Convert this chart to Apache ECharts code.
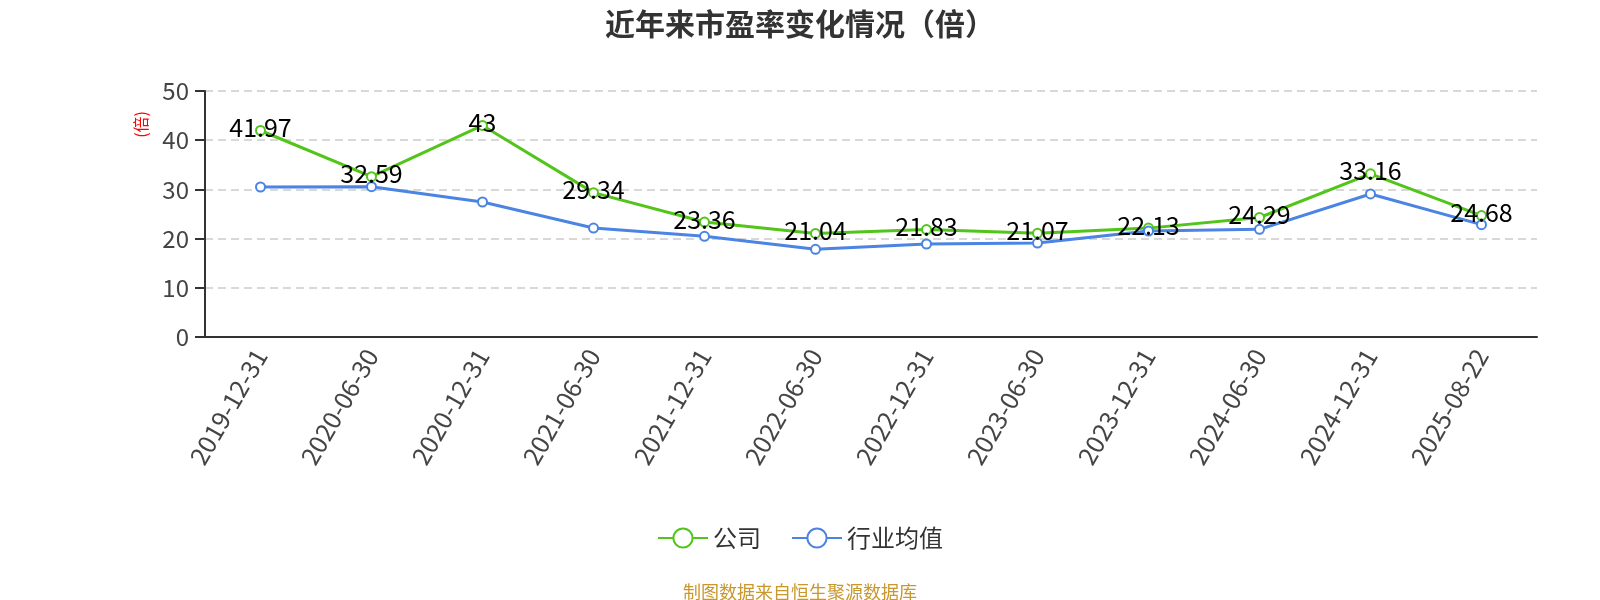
<!DOCTYPE html>
<html>
<head>
<meta charset="utf-8">
<script src="https://cdn.jsdelivr.net/npm/echarts@6/dist/echarts.min.js"></script>
<style>
html,body{margin:0;padding:0;background:#fff;}
#main{width:1600px;height:600px;}
</style>
</head>
<body>
<div id="main"></div>
<script>
var dates = ['2019-12-31','2020-06-30','2020-12-31','2021-06-30','2021-12-31','2022-06-30','2022-12-31','2023-06-30','2023-12-31','2024-06-30','2024-12-31','2025-08-22'];
var company = [41.97, 32.59, 43, 29.34, 23.36, 21.04, 21.83, 21.07, 22.13, 24.29, 33.16, 24.68];
var industry = [30.49, 30.56, 27.44, 22.15, 20.46, 17.82, 18.9, 19.1, 21.54, 21.88, 29.07, 22.83];
var yTicks = [0, 10, 20, 30, 40, 50];

var FONT = '"Noto Sans CJK SC","Noto Sans",sans-serif';

var myChart = echarts.init(document.getElementById('main'));
var option = {
	backgroundColor:'#fff',
	textStyle:{fontFamily:FONT},
	title:[{
		text:'近年来市盈率变化情况（倍）',
		left:'center',
		top:4,
		textStyle:{fontSize:30,fontWeight:'bold',color:'#333',fontFamily:FONT}
	},{
		text:'制图数据来自恒生聚源数据库',
		left:'center',
		top:578,
		textStyle:{fontSize:18,fontWeight:'normal',color:'#c9972c',fontFamily:FONT}
	}],
	//左侧单位
	graphic:[{
		type:'text',
		left:133,
		top:111,
		rotation:Math.PI/2,
		style:{text:'(倍)',fill:'#ff0000',font:'16px ' + FONT}
	}],
	legend:{
		data:['公司','行业均值'],
		left:'center',
		top:521,
		itemWidth:50,
		itemHeight:24,
		itemGap:30,
		textStyle:{fontSize:24,color:'#333',fontFamily:FONT}
	},
	grid:{
		left:205,
		right:63,
		top:91,
		bottom:263
	},
	xAxis:[{
		type:'category',
		data:dates,
		boundaryGap:true,
		axisLine:{lineStyle:{color:'#333',width:2}},
		axisTick:{length:9,lineStyle:{width:2}},
		axisLabel:{
			interval:0,
			rotate:60,
			margin:14,
			fontSize:25,
			color:'#444',
			fontFamily:FONT
		}
	}],
	yAxis:[{
		type:'value',
		min:yTicks[0],
		max:yTicks[yTicks.length-1],
		interval:10,
		axisLine:{show:true,lineStyle:{color:'#333',width:2}},
		axisTick:{show:true,length:10,lineStyle:{width:2}},
		axisLabel:{margin:16,fontSize:24,color:'#444',fontFamily:FONT},
		splitLine:{lineStyle:{type:[8,5],color:'#ccc',width:1.5}}
	}],
	series:[{
		name:'公司',
		type:'line',
		data:company,
		symbol:'emptyCircle',
		symbolSize:9,
		color:'#52c41a',
		lineStyle:{width:3},
		label:{
			show:true,
			position:'inside',
			offset:[0,-3],
			fontSize:25,
			color:'#000',
			fontFamily:FONT
		}
	},{
		name:'行业均值',
		type:'line',
		data:industry,
		symbol:'emptyCircle',
		symbolSize:9,
		color:'#4b84e3',
		lineStyle:{width:3}
	}]
};
myChart.setOption(option);
</script>
</body>
</html>
